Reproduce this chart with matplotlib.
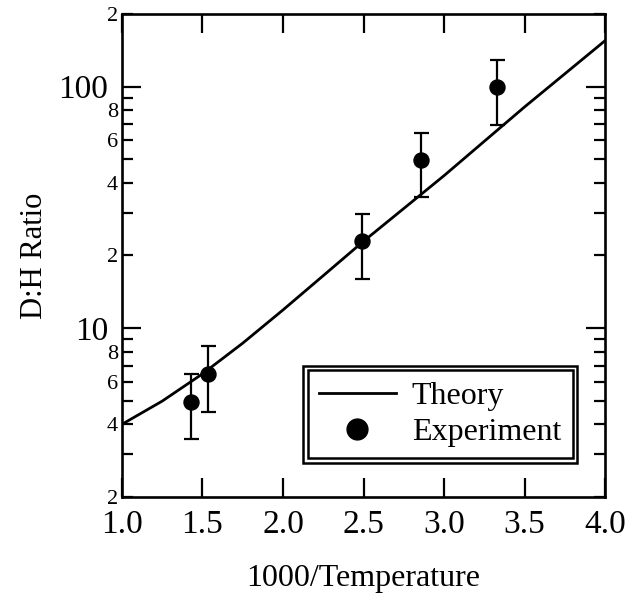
import matplotlib
matplotlib.use("Agg")
import matplotlib.pyplot as plt
from matplotlib.ticker import LogLocator, FixedLocator, FuncFormatter
from matplotlib.patches import Rectangle
from matplotlib.lines import Line2D

plt.rcParams['font.family'] = ['Liberation Serif', 'DejaVu Serif']

# theory curve
x_theory = [1.0, 1.25, 1.5, 1.75, 2.0, 2.25, 2.5, 2.75, 3.0, 3.25, 3.5, 3.75, 4.0]
y_theory = [4.0, 4.99, 6.47, 8.67, 11.9, 16.5, 22.9, 31.3, 42.8, 59.4, 82.4, 113, 155]

# measured ratios with error limits
x_exp = [1.427, 1.536, 2.49, 2.855, 3.327]
y_exp = [4.95, 6.45, 22.9, 49.7, 99.4]
y_hi = [6.45, 8.4, 29.7, 64.5, 129]
y_lo = [3.48, 4.5, 16.0, 34.8, 69.4]

x_ticks = [1.0, 1.5, 2.0, 2.5, 3.0, 3.5, 4.0]
x_ticklabels = ['1.0', '1.5', '2.0', '2.5', '3.0', '3.5', '4.0']

fig = plt.figure(figsize=(6.37, 6.0), dpi=100)
ax = fig.add_axes([0.1915, 0.1717, 0.7583, 0.805])

ax.plot(x_theory, y_theory, color='black', lw=2.0)
err = [[y - lo for y, lo in zip(y_exp, y_lo)], [hi - y for y, hi in zip(y_exp, y_hi)]]
ax.errorbar(x_exp, y_exp, yerr=err, fmt='o', color='black', ms=10.8,
            elinewidth=1.6, capsize=5.4, capthick=1.6)

ax.set_yscale('log')
ax.set_xlim(1.0, 4.0)
ax.set_ylim(2, 200)

ax.set_xticks(x_ticks)
ax.set_xticklabels(x_ticklabels)

ax.yaxis.set_major_locator(FixedLocator([10, 100]))
ax.yaxis.set_major_formatter(FuncFormatter(lambda v, p: '%d' % v))
ax.yaxis.set_minor_locator(LogLocator(base=10, subs=[2, 3, 4, 5, 6, 7, 8, 9], numticks=20))


def minor_fmt(v, pos):
    lead = int(round(v / 10 ** int(f'{v:e}'.split('e')[1])))
    return str(lead) if lead in (2, 4, 6, 8) else ''


ax.yaxis.set_minor_formatter(FuncFormatter(minor_fmt))

ax.tick_params(axis='both', which='both', direction='in', top=True, right=True,
               width=1.6, color='black')
ax.tick_params(axis='x', which='major', length=14, pad=9, labelsize=24)
ax.tick_params(axis='y', which='major', length=14, pad=10, labelsize=24)
ax.tick_params(axis='y', which='minor', length=8, pad=3, labelsize=16)
ax.tick_params(axis='x', which='minor', bottom=False, top=False)

for s in ax.spines.values():
    s.set_linewidth(1.9)

ax.set_xlabel('1000/Temperature', fontsize=23)
ax.set_ylabel('D:H Ratio', fontsize=22)
ax.xaxis.set_label_coords(0.5, -0.138)
ax.yaxis.set_label_coords(-0.152, 0.5)

handles = [Line2D([], [], color='black', lw=2.0),
           Line2D([], [], color='black', ls='none', marker='o', ms=15)]
leg = ax.legend(handles, ['Theory', 'Experiment'], loc='lower right',
                bbox_to_anchor=(0.942, 0.0704), borderaxespad=0,
                fontsize=23, handlelength=2.4, handletextpad=0.5, labelspacing=0.2,
                borderpad=0.5, fancybox=False, framealpha=1, edgecolor='black')
leg.get_frame().set_linewidth(1.8)

# second, inner frame line of the legend box
fig.canvas.draw()
bb = leg.get_window_extent()
inset = 4.5
inner = Rectangle((bb.x0 + inset, bb.y0 + inset), bb.width - 2 * inset, bb.height - 2 * inset,
                  transform=None, fill=False, edgecolor='black', linewidth=1.8, zorder=10)
fig.patches.append(inner)

fig.savefig('out.png', dpi=100)
